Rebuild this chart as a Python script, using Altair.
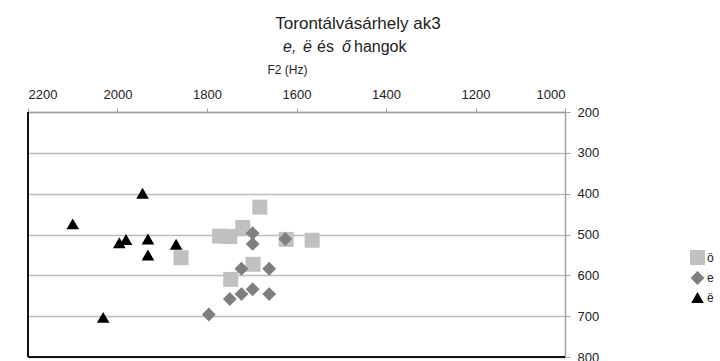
import altair as alt
import pandas as pd

# ---- data ----
series_names = ["ö", "e", "ë"]

o_f2 = [1682, 1858, 1772, 1749, 1720, 1697, 1747, 1623, 1565]
o_f1 = [433, 557, 504, 505, 483, 573, 610, 512, 514]

e_f2 = [1698, 1698, 1625, 1723, 1661, 1749, 1723, 1698, 1661, 1796]
e_f1 = [497, 523, 511, 584, 584, 658, 646, 634, 646, 696]

ee_f2 = [1944, 2100, 1996, 1981, 1932, 1932, 1869, 2032]
ee_f1 = [399, 474, 520, 512, 511, 550, 524, 703]

x_ticks = [2200, 2000, 1800, 1600, 1400, 1200, 1000]
y_ticks = [200, 300, 400, 500, 600, 700, 800]

rows = []
for name, xs, ys in [("ö", o_f2, o_f1), ("e", e_f2, e_f1), ("ë", ee_f2, ee_f1)]:
    for a, b in zip(xs, ys):
        rows.append({"series": name, "F2": a, "F1": b})
df = pd.DataFrame(rows)

W, H = 537, 245
FONT = "Liberation Sans"

legend = alt.Legend(
    orient="none", legendX=662, legendY=138, title=None,
    symbolSize=150, labelFontSize=12, rowPadding=6, labelOffset=2,
    symbolStrokeWidth=0, labelFont=FONT, labelColor="#222",
)

points = alt.Chart(df).mark_point(filled=True, opacity=1).encode(
    x=alt.X("F2:Q",
            scale=alt.Scale(domain=[1000, 2200], reverse=True, nice=False, zero=False),
            axis=alt.Axis(orient="top", values=x_ticks, format="d", grid=False,
                          title="F2 (Hz)", titleX=239, titleY=-39,
                          titleAlign="left", titleBaseline="alphabetic",
                          titleFontSize=12, titleFontWeight="normal", titleFont=FONT,
                          titleColor="#222",
                          labelFontSize=13, labelFont=FONT, labelColor="#222",
                          labelPadding=7, tickSize=4, tickColor="#a0a0a0",
                          domainColor="#a0a0a0", domainWidth=1.5)),
    y=alt.Y("F1:Q",
            scale=alt.Scale(domain=[200, 800], reverse=True, nice=False, zero=False),
            axis=alt.Axis(orient="right", values=y_ticks, format="d", grid=True,
                          gridColor="#bdbdbd", gridWidth=1.5, title=None,
                          labelFontSize=13, labelFont=FONT, labelColor="#222",
                          labelPadding=7, tickSize=5, tickColor="#a0a0a0",
                          domainColor="#a0a0a0", domainWidth=1.5)),
    color=alt.Color("series:N",
                    scale=alt.Scale(domain=series_names,
                                    range=["#c0c0c0", "#7f7f7f", "#000000"]),
                    legend=legend),
    shape=alt.Shape("series:N",
                    scale=alt.Scale(domain=series_names,
                                    range=["square", "diamond", "triangle-up"]),
                    legend=legend),
    size=alt.Size("series:N",
                  scale=alt.Scale(domain=series_names, range=[225, 160, 256]),
                  legend=None),
)

one = pd.DataFrame({"k": [0]})

left_border = alt.Chart(one).mark_rule(color="#111", strokeWidth=2).encode(
    x=alt.value(0), y=alt.value(0), y2=alt.value(H))
bottom_border = alt.Chart(one).mark_rule(color="#111", strokeWidth=2).encode(
    x=alt.value(0), x2=alt.value(W), y=alt.value(H))

def txt(s, x, y, size, italic=False, align="left"):
    return alt.Chart(one).mark_text(
        text=s, font=FONT, fontSize=size, color="#222",
        fontStyle="italic" if italic else "normal",
        align=align, baseline="alphabetic",
    ).encode(x=alt.value(x), y=alt.value(y))

title = txt("Torontálvásárhely ak3", 330, -83, 17, align="center")
sub = [
    txt("e,", 255, -60, 16, italic=True),
    txt("ë", 275, -60, 16, italic=True),
    txt("és", 289, -60, 16),
    txt("ő", 314, -60, 16, italic=True),
    txt("hangok", 326, -60, 16),
]

chart = alt.layer(points, left_border, bottom_border, title, *sub).properties(
    width=W, height=H,
    padding={"left": 28, "top": 112, "right": 155, "bottom": 4},
    autosize=alt.AutoSizeParams(type="none"),
).configure_view(stroke=None).configure(background="white")

chart.save("out.html", embed_options={"renderer": "svg", "actions": False})
